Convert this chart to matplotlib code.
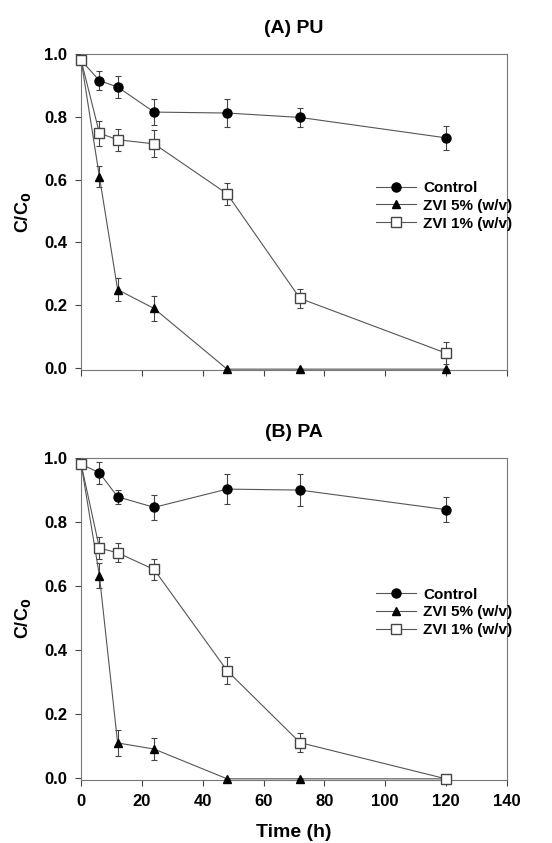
import matplotlib
matplotlib.use('Agg')
import matplotlib.pyplot as plt

plt.rcParams['font.family'] = ['Liberation Sans', 'DejaVu Sans']

time_h = [0, 6, 12, 24, 48, 72, 120]

# (A) PU
pu_control = [0.98, 0.915, 0.895, 0.815, 0.812, 0.798, 0.733]
pu_control_err = [0.0, 0.03, 0.035, 0.042, 0.045, 0.03, 0.038]
pu_zvi5 = [0.98, 0.61, 0.25, 0.19, -0.003, -0.003, -0.003]
pu_zvi5_err = [0.0, 0.033, 0.037, 0.04, 0.0, 0.0, 0.0]
pu_zvi1 = [0.98, 0.748, 0.727, 0.714, 0.555, 0.222, 0.048]
pu_zvi1_err = [0.0, 0.04, 0.035, 0.043, 0.035, 0.03, 0.035]

# (B) PA
pa_control = [0.98, 0.953, 0.878, 0.845, 0.902, 0.899, 0.838]
pa_control_err = [0.0, 0.035, 0.022, 0.04, 0.047, 0.05, 0.038]
pa_zvi5 = [0.98, 0.632, 0.109, 0.09, -0.003, -0.003, -0.003]
pa_zvi5_err = [0.0, 0.04, 0.04, 0.034, 0.0, 0.0, 0.0]
pa_zvi1 = [0.98, 0.718, 0.703, 0.651, 0.335, 0.11, -0.003]
pa_zvi1_err = [0.0, 0.035, 0.03, 0.033, 0.043, 0.03, 0.0]

labels = ['Control', 'ZVI 5% (w/v)', 'ZVI 1% (w/v)']
panels = [
    ('(A) PU', [(pu_control, pu_control_err), (pu_zvi5, pu_zvi5_err), (pu_zvi1, pu_zvi1_err)]),
    ('(B) PA', [(pa_control, pa_control_err), (pa_zvi5, pa_zvi5_err), (pa_zvi1, pa_zvi1_err)]),
]
styles = [
    dict(marker='o', mfc='black', mec='black', ms=6.5),
    dict(marker='^', mfc='black', mec='black', ms=6),
    dict(marker='s', mfc='white', mec='#444444', ms=6.5),
]

fig = plt.figure(figsize=(5.52, 8.43), dpi=100)
boxes = [[0.147, 0.561, 0.771, 0.375], [0.147, 0.075, 0.771, 0.382]]
line_col = '#555555'

for i, (title, series) in enumerate(panels):
    ax = fig.add_axes(boxes[i])
    for (vals, errs), lab, st in zip(series, labels, styles):
        # error bars first, then the line with markers on top (legend uses this one)
        ax.errorbar(time_h, vals, yerr=errs, fmt='none', ecolor='#444444',
                    elinewidth=0.8, capsize=2.5, capthick=0.8, clip_on=False, zorder=2)
        ax.plot(time_h, vals, color=line_col, lw=0.8, label=lab,
                clip_on=False, zorder=3, **st)
    ax.set_xlim(0, 140)
    ax.set_ylim(-0.006, 1.0)
    ax.set_xticks(range(0, 141, 20))
    ax.set_yticks([0.0, 0.2, 0.4, 0.6, 0.8, 1.0])
    ax.set_yticklabels(['0.0', '0.2', '0.4', '0.6', '0.8', '1.0'])
    ax.tick_params(direction='out', length=4, width=0.8, color='#444444',
                   labelsize=12, pad=6)
    for lbl in ax.get_xticklabels() + ax.get_yticklabels():
        lbl.set_fontweight('bold')
    for sp in ax.spines.values():
        sp.set_color('#777777')
        sp.set_linewidth(0.8)
    ax.set_title(title, fontsize=14, fontweight='bold', pad=15)
    ax.set_ylabel('C/C$_\\mathbf{0}$', fontsize=13, fontweight='bold', labelpad=8)
    if i == 0:
        ax.set_xticklabels([])
    else:
        ax.set_xlabel('Time (h)', fontsize=14, fontweight='bold', labelpad=11)
    ax.legend(loc='center left', bbox_to_anchor=(0.66, 0.52), frameon=False,
              prop={'weight': 'bold', 'size': 11}, handlelength=2.6,
              handletextpad=0.5, labelspacing=0.25)

fig.savefig('out.png', dpi=100)
